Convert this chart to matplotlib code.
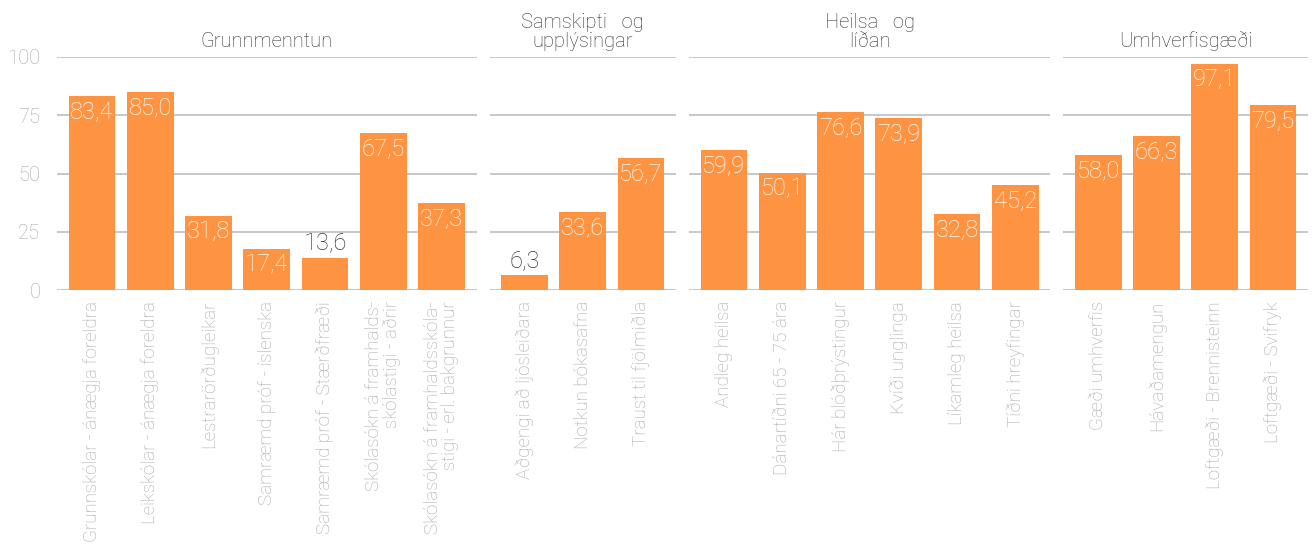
import matplotlib
matplotlib.use("Agg")
from matplotlib import pyplot as plt

plt.rcParams['font.family'] = ['Roboto', 'DejaVu Sans']

titles = ["Grunnmenntun", "Samskipti   og\nupplýsingar", "Heilsa   og\nlíðan", "Umhverfisgæði"]

labels_1 = ["Grunnskólar - ánægja foreldra", "Leikskólar - ánægja foreldra", "Lestrarörðugleikar",
            "Samræmd próf - íslenska", "Samræmd próf - Stærðfræði",
            "Skólasókn á framhalds-\nskólastigi - aðrir", "Skólasókn á framhaldsskóla-\nstigi - erl. bakgrunnur"]
values_1 = [83.4, 85.0, 31.8, 17.4, 13.6, 67.5, 37.3]

labels_2 = ["Aðgengi að ljósleiðara", "Notkun bókasafna", "Traust til fjölmiðla"]
values_2 = [6.3, 33.6, 56.7]

labels_3 = ["Andleg heilsa", "Dánartíðni 65 - 75 ára", "Hár blóðþrýstingur", "Kvíði unglinga",
            "Líkamleg heilsa", "Tíðni hreyfingar"]
values_3 = [59.9, 50.1, 76.6, 73.9, 32.8, 45.2]

labels_4 = ["Gæði umhverfis", "Hávaðamengun", "Loftgæði - Brennisteinn", "Loftgæði - Svifryk"]
values_4 = [58.0, 66.3, 97.1, 79.5]

groups = [(labels_1, values_1), (labels_2, values_2), (labels_3, values_3), (labels_4, values_4)]

bar_color = "#FE9441"
grid_color = "#bdbdbd"
tick_color = "#a8a8a8"

fig = plt.figure(figsize=(13.15, 5.51), dpi=100)
gs = fig.add_gridspec(1, 4, width_ratios=[len(v) + 0.2 for _, v in groups],
                      left=57/1315, right=1308/1315, top=1-57/551, bottom=1-290/551, wspace=0.043)

for i, (labs, vals) in enumerate(groups):
    ax = fig.add_subplot(gs[0, i])
    x = range(len(vals))
    ax.bar(x, vals, width=0.8, color=bar_color, zorder=3)
    ax.set_xlim(-0.6, len(vals) - 0.4)
    ax.set_ylim(0, 100)
    ax.set_yticks([0, 25, 50, 75, 100])
    ax.yaxis.grid(True, color=grid_color, linewidth=1.2, zorder=0)
    ax.set_axisbelow(True)
    for s in ax.spines.values():
        s.set_visible(False)
    ax.tick_params(length=0)
    ax.set_xticks(list(x))
    ax.set_xticklabels(labs, rotation=90, ha='center', va='top', multialignment='right',
                       color=tick_color, fontsize=13.5, fontweight='light', linespacing=0.95)
    ax.tick_params(axis='x', pad=8)
    if i == 0:
        ax.tick_params(axis='y', labelcolor=tick_color, labelsize=14.5, pad=12)
        for t in ax.get_yticklabels():
            t.set_fontweight('light')
    else:
        ax.set_yticklabels([])
    ax.set_title(titles[i], fontsize=14.5, color="#333333", pad=7, linespacing=1.0, fontweight='light')
    for xi, v in zip(x, vals):
        txt = f"{v:.1f}".replace(".", ",")
        if v < 15:
            ax.annotate(txt, (xi, v), xytext=(0, 2), textcoords='offset points',
                        ha='center', va='bottom', fontsize=17, color="#333333", fontweight='light')
        else:
            ax.annotate(txt, (xi, v), xytext=(0, -3), textcoords='offset points',
                        ha='center', va='top', fontsize=17, color="white", fontweight='light', zorder=4)

plt.savefig("out.png", dpi=100)
